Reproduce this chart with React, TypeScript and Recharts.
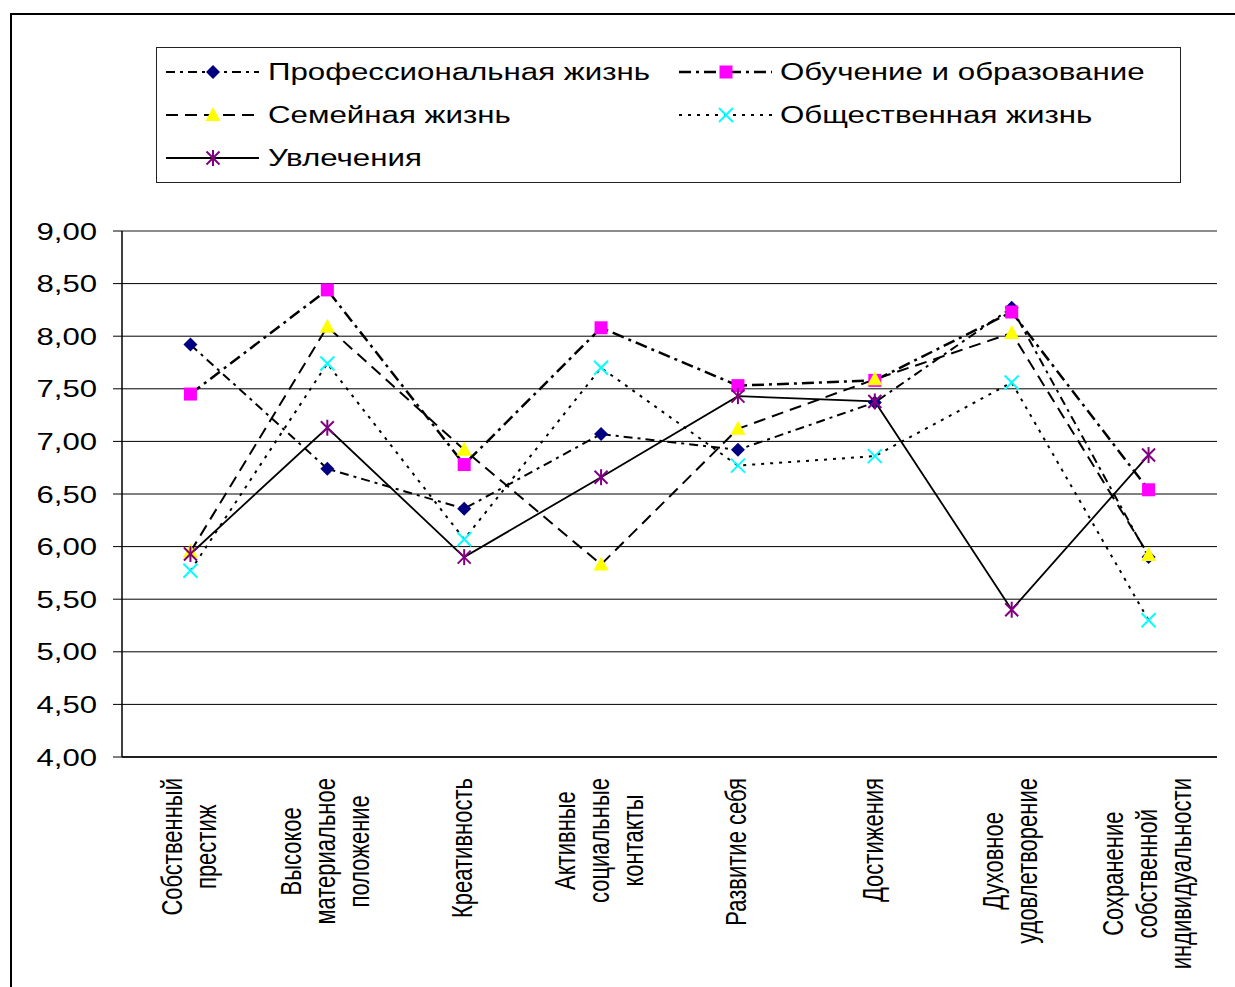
import React from "react";
import { CartesianGrid, Legend, Line, LineChart, ReferenceLine, XAxis, YAxis } from "recharts";

const categories = [
  "Собственный престиж",
  "Высокое материальное положение",
  "Креативность",
  "Активные социальные контакты",
  "Развитие себя",
  "Достижения",
  "Духовное удовлетворение",
  "Сохранение собственной индивидуальности",
];

const professional = [7.92, 6.74, 6.36, 7.07, 6.92, 7.37, 8.27, 5.9];
const education = [7.45, 8.44, 6.78, 8.08, 7.53, 7.58, 8.23, 6.54];
const family = [5.95, 8.09, 6.92, 5.83, 7.12, 7.59, 8.03, 5.92];
const social = [5.77, 7.74, 6.07, 7.7, 6.77, 6.86, 7.56, 5.3];
const hobbies = [5.93, 7.13, 5.9, 6.66, 7.43, 7.38, 5.4, 6.87];

const yTicks = [4, 4.5, 5, 5.5, 6, 6.5, 7, 7.5, 8, 8.5, 9];

type Shape = "diamond" | "square" | "triangle" | "cross" | "star";

const series: { key: string; name: string; values: number[]; dash?: string; width: number; shape: Shape; color: string }[] = [
  { key: "professional", name: "Профессиональная жизнь", values: professional, dash: "9 5 3 5", width: 2, shape: "diamond", color: "#000080" },
  { key: "education", name: "Обучение и образование", values: education, dash: "12 5 3 5", width: 2.5, shape: "square", color: "#FF00FF" },
  { key: "family", name: "Семейная жизнь", values: family, dash: "12 7", width: 2, shape: "triangle", color: "#FFFF00" },
  { key: "social", name: "Общественная жизнь", values: social, dash: "3 6", width: 2, shape: "cross", color: "#00FFFF" },
  { key: "hobbies", name: "Увлечения", values: hobbies, width: 1.8, shape: "star", color: "#800080" },
];

const data = categories.map((category, i) => {
  const row: Record<string, string | number> = { category };
  series.forEach((s) => {
    row[s.key] = s.values[i];
  });
  return row;
});

const edgeTicks = categories.map((_, i) => i).concat(categories.length);

const FONT = '"Liberation Sans", Arial, sans-serif';

function Marker({ shape, color, cx, cy }: { shape: Shape; color: string; cx: number; cy: number }) {
  if (shape === "diamond") {
    return <polygon points={`${cx},${cy - 7} ${cx + 7},${cy} ${cx},${cy + 7} ${cx - 7},${cy}`} fill={color} />;
  }
  if (shape === "square") {
    return <rect x={cx - 6.5} y={cy - 6.5} width={13} height={13} fill={color} />;
  }
  if (shape === "triangle") {
    return <polygon points={`${cx},${cy - 8} ${cx + 7.5},${cy + 6} ${cx - 7.5},${cy + 6}`} fill={color} />;
  }
  if (shape === "cross") {
    return (
      <g stroke={color} strokeWidth={2}>
        <line x1={cx - 7} y1={cy - 7} x2={cx + 7} y2={cy + 7} />
        <line x1={cx - 7} y1={cy + 7} x2={cx + 7} y2={cy - 7} />
      </g>
    );
  }
  return (
    <g stroke={color} strokeWidth={2}>
      <line x1={cx - 6.5} y1={cy - 6.5} x2={cx + 6.5} y2={cy + 6.5} />
      <line x1={cx - 6.5} y1={cy + 6.5} x2={cx + 6.5} y2={cy - 6.5} />
      <line x1={cx} y1={cy - 8} x2={cx} y2={cy + 8} />
    </g>
  );
}

function LegendBox() {
  return (
    <div
      style={{
        width: 1025,
        height: 136,
        border: "1px solid #222",
        boxSizing: "border-box",
        background: "#fff",
        position: "relative",
      }}
    >
      {series.map((s, i) => {
        const col = i % 2;
        const row = Math.floor(i / 2);
        const lineLeft = col === 0 ? 9 : 522;
        const textLeft = col === 0 ? 111 : 623;
        const cy = 24 + row * 43;
        return (
          <React.Fragment key={s.key}>
            <svg style={{ position: "absolute", left: lineLeft, top: cy - 15 }} width={94} height={30}>
              <line x1={0} y1={15} x2={93} y2={15} stroke="#000" strokeWidth={s.width} strokeDasharray={s.dash} />
              <Marker shape={s.shape} color={s.color} cx={47} cy={15} />
            </svg>
            <span
              style={{
                position: "absolute",
                left: textLeft,
                top: cy - 15,
                height: 30,
                lineHeight: "30px",
                fontFamily: FONT,
                fontSize: 23.5,
                color: "#000",
                whiteSpace: "nowrap",
                transform: "scaleX(1.33)",
                transformOrigin: "left center",
              }}
            >
              {s.name}
            </span>
          </React.Fragment>
        );
      })}
    </div>
  );
}

function YTick({ x, y, payload }: any) {
  const label = Number(payload.value).toFixed(2).replace(".", ",");
  return (
    <text transform={`translate(${x},${y}) scale(1.27,1)`} textAnchor="end" dy="0.35em" fontFamily={FONT} fontSize={24.5} fill="#000">
      {label}
    </text>
  );
}

let measureCtx: CanvasRenderingContext2D | null = null;
function textWidth(s: string) {
  if (!measureCtx) {
    measureCtx = document.createElement("canvas").getContext("2d");
  }
  if (!measureCtx) return s.length * 11;
  measureCtx.font = `22px ${FONT}`;
  return measureCtx.measureText(s).width;
}

function wrap(label: string) {
  const words = label.split(" ");
  const lines: string[] = [];
  let cur = "";
  words.forEach((w) => {
    const next = cur ? cur + " " + w : w;
    if (next.length > 13 && cur) {
      lines.push(cur);
      cur = w;
    } else {
      cur = next;
    }
  });
  if (cur) lines.push(cur);
  return lines;
}

function XTick({ x, y, payload }: any) {
  const lines = wrap(String(payload.value));
  const maxW = Math.max(...lines.map(textWidth));
  const cy = y + 21 + maxW / 2;
  return (
    <g>
      {lines.map((line, i) => {
        const lx = x - 2 + (i - (lines.length - 1) / 2) * 34;
        return (
          <text
            key={i}
            transform={`translate(${lx},${cy}) scale(1.3,1) rotate(-90)`}
            textAnchor="middle"
            dominantBaseline="central"
            fontFamily={FONT}
            fontSize={22}
            fill="#000"
          >
            {line}
          </text>
        );
      })}
    </g>
  );
}

export default function App() {
  return (
    <div style={{ position: "absolute", left: 0, top: 0, width: 1235, height: 987, overflow: "hidden", background: "#fff" }}>
      <div
        style={{
          position: "absolute",
          left: 10,
          top: 13,
          width: 1400,
          height: 1200,
          borderLeft: "2px solid #000",
          borderTop: "2px solid #000",
        }}
      />
      <div style={{ position: "absolute", left: 0, top: 0 }}>
        <LineChart width={1235} height={987} data={data} margin={{ top: 95, right: 18, bottom: 0, left: 0 }}>
          <CartesianGrid vertical={false} stroke="#000" strokeWidth={1} yAxisId="main" />
          <XAxis
            xAxisId="edges"
            type="number"
            domain={[0, categories.length]}
            ticks={edgeTicks}
            tick={false}
            tickSize={6}
            tickLine={{ stroke: "#000" }}
            axisLine={false}
            height={0}
            allowDataOverflow
          />
          <XAxis
            dataKey="category"
            scale="band"
            interval={0}
            tick={<XTick />}
            tickLine={false}
            tickSize={0}
            tickMargin={0}
            axisLine={{ stroke: "#000", strokeWidth: 1.5 }}
            height={230}
          />
          <YAxis
            yAxisId="main"
            domain={[4, 9]}
            ticks={yTicks}
            interval={0}
            width={122}
            tick={<YTick />}
            tickSize={9}
            tickMargin={16}
            tickLine={{ stroke: "#000" }}
            axisLine={{ stroke: "#000", strokeWidth: 1.5 }}
          />
          <YAxis
            yAxisId="frame"
            orientation="right"
            domain={[4, 9]}
            width={0}
            tick={false}
            tickLine={false}
            axisLine={{ stroke: "#8c8c8c", strokeWidth: 2 }}
          />
          <ReferenceLine yAxisId="main" y={9} stroke="#8c8c8c" strokeWidth={2} />
          <Legend verticalAlign="top" content={<LegendBox />} wrapperStyle={{ top: 47, left: 156, width: 1025, height: 136 }} />
          {series.map((s) => (
            <Line
              key={s.key}
              yAxisId="main"
              dataKey={s.key}
              name={s.name}
              type="linear"
              stroke="#000"
              strokeWidth={s.width}
              strokeDasharray={s.dash}
              isAnimationActive={false}
              dot={(p: any) => <Marker key={`${s.key}-${p.index}`} shape={s.shape} color={s.color} cx={p.cx} cy={p.cy} />}
              activeDot={false}
            />
          ))}
        </LineChart>
      </div>
    </div>
  );
}
